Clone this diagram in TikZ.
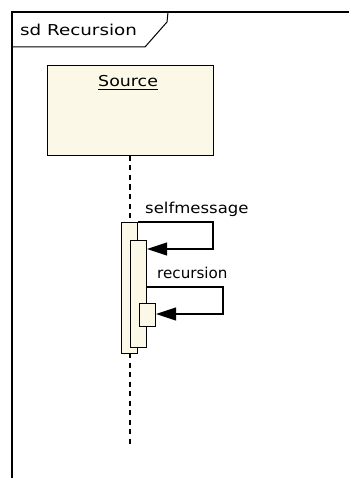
\documentclass[tikz,border=0pt]{standalone}
\usepackage{fontspec}
\newfontfamily\uf{DejaVu Sans}
\usetikzlibrary{arrows.meta}
\definecolor{cream}{HTML}{FCF8E8}
\newcommand{\sx}[2]{\scalebox{#1}[1]{#2}}
\begin{document}
\begin{tikzpicture}[x=1pt,y=-1pt,
  lbl/.style={inner sep=0pt, anchor=base west, font=\uf\fontsize{15}{18}\selectfont},
  act/.style={draw=black, fill=cream, line width=1pt, inner sep=0pt, anchor=north west},
  msg/.style={draw=black, line width=1.2pt, -{Triangle[length=20pt,width=13pt]}},
  life/.style={draw=black, line width=1.6pt, dash pattern=on 5pt off 4.5pt}]
\useasboundingbox (0,0) rectangle (349,478);
\fill[white] (0,0) rectangle (349,478);
% frame
\draw[line width=1.6pt] (12,478) -- (12,12) -- (349,12);
\draw[line width=1pt] (12,47) -- (145,47) -- (167,22) -- (168,12);
\node[lbl] (title) at (20,36) {\sx{1.22}{sd Recursion}};
% source box
\node[act, minimum width=166pt, minimum height=90pt] (src) at (47,65) {};
\node[lbl] (srclbl) at (98,87) {\sx{1.16}{Source}};
\draw[line width=1pt] (98,90) -- (158,90);
% lifeline
\coordinate (l1) at (130,222);
\coordinate (l2) at (130,353);
\coordinate (lend) at (130,445);
\draw[life] (src.south -| l1) -- (l1);
\draw[life] (l2) -- (lend);
% activations
\node[act, minimum width=16pt, minimum height=131pt] (a1) at (121,222) {};
\node[act, minimum width=16pt, minimum height=107pt] (a2) at (130,240) {};
\node[act, minimum width=16pt, minimum height=23pt] (a3) at (139,303) {};
% self message
\coordinate (s1) at (213,222);
\coordinate (s2) at (213,249);
\draw[msg] (a1.north east) -- (s1) -- (s2) -- (s2 -| a2.east);
\node[lbl] (smlbl) at (145,213) {\sx{1.10}{selfmessage}};
% recursion
\coordinate (r0) at (146,287);
\coordinate (r1) at (223,287);
\coordinate (r2) at (223,314);
\draw[msg] (r0) -- (r1) -- (r2) -- (r2 -| a3.east);
\node[lbl] (reclbl) at (157,278) {\sx{1.01}{recursion}};
\end{tikzpicture}
\end{document}
